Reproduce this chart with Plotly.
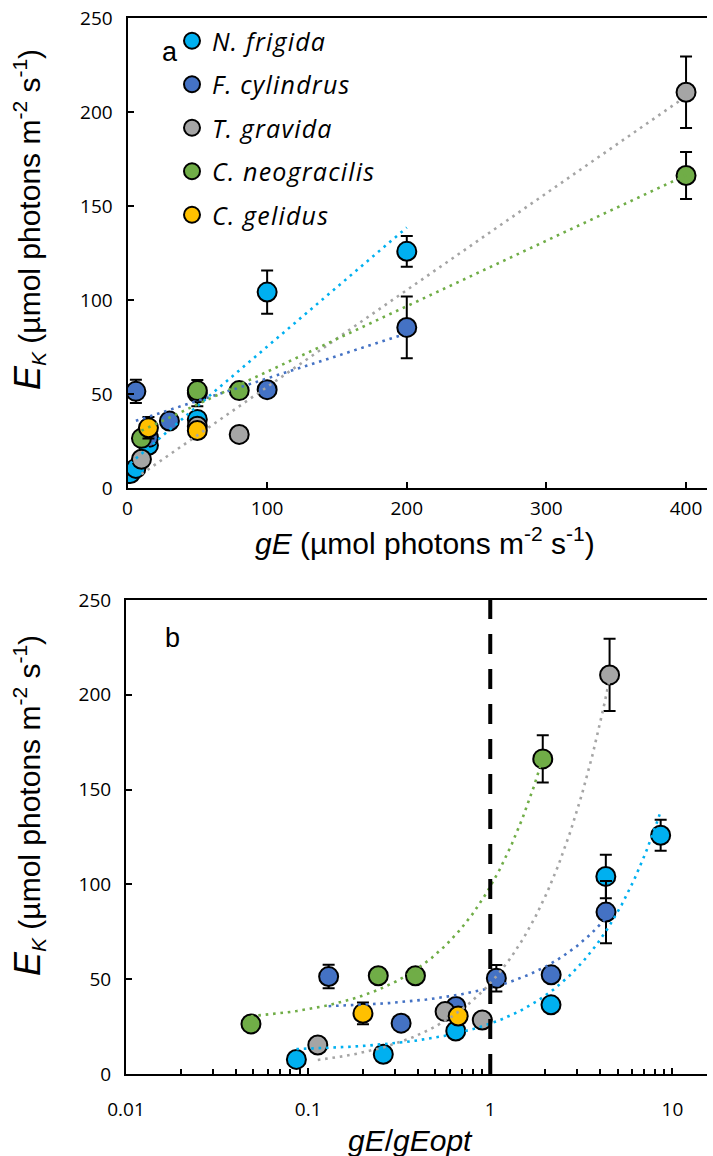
import numpy as np
import plotly.graph_objects as go

# ---------------- data ----------------
species = ["N. frigida", "F. cylindrus", "T. gravida", "C. neogracilis", "C. gelidus"]
colors = ["#00B0F0", "#4472C4", "#A5A5A5", "#70AD47", "#FFC000"]

nf_gE = [2, 6, 15, 50, 100, 200]
nf_EK = [7.7, 10.4, 22.7, 36.5, 104.2, 125.9]
nf_err = [0, 0, 0, 0, 11.5, 8.2]
nf_gEopt = 23.2

fc_gE = [6, 15, 30, 50, 100, 200]
fc_EK = [51.4, 26.8, 35.6, 50.5, 52.3, 85.4]
fc_err = [6.2, 0, 0, 7, 0, 16.4]
fc_gEopt = 46.3

tg_gE = [10, 50, 80, 400]
tg_EK = [15.3, 32.9, 28.5, 210.5]
tg_err = [0, 0, 0, 19]
tg_gEopt = 88.5

cn_gE = [10, 50, 80, 400]
cn_EK = [26.4, 51.8, 51.8, 166.2]
cn_err = [0, 0, 0, 12.5]
cn_gEopt = 206

cg_gE = [15, 50]
cg_EK = [32.0, 30.6]
cg_err = [5.7, 0]
cg_gEopt = 75

has_trend = [True, True, True, True, False]
gE_ratio_ref = 1  # dashed reference line gE/gEopt = 1

groups = [
    (nf_gE, nf_EK, nf_err, nf_gEopt),
    (fc_gE, fc_EK, fc_err, fc_gEopt),
    (tg_gE, tg_EK, tg_err, tg_gEopt),
    (cn_gE, cn_EK, cn_err, cn_gEopt),
    (cg_gE, cg_EK, cg_err, cg_gEopt),
]

W, H = 713, 1156
TICKFONT = dict(family="Open Sans, Lato, sans-serif", size=19, color="black")
TITLEFONT = dict(family="Liberation Sans, Arial, sans-serif", size=30, color="black")
LABELFONT = dict(family="Liberation Sans, Arial, sans-serif", size=27, color="black")

fig = go.Figure()

# markers
for i, (gE, EK, err, gEopt) in enumerate(groups):
    mk = dict(color=colors[i], size=19, line=dict(color="black", width=2))
    eb = dict(type="data", array=err, color="black", thickness=2, width=6)
    fig.add_trace(go.Scatter(
        x=gE, y=EK, mode="markers", marker=mk, error_y=eb,
        name="<span style='letter-spacing:1.2px'><i>" + species[i] + "</i></span>",
        legendgroup=species[i], xaxis="x", yaxis="y", showlegend=True))
    fig.add_trace(go.Scatter(
        x=[g / gEopt for g in gE], y=EK, mode="markers", marker=mk, error_y=eb,
        name=species[i], legendgroup=species[i],
        xaxis="x2", yaxis="y2", showlegend=False))

# linear trend lines (least squares, as in the source's trendlines)
for i, (gE, EK, err, gEopt) in enumerate(groups):
    if not has_trend[i]:
        continue
    coef = np.polyfit(gE, EK, 1)
    xs = np.linspace(min(gE), max(gE), 200)
    ys = np.polyval(coef, xs)
    ln = dict(color=colors[i], width=2.6, dash="2.6px,4.8px")
    fig.add_trace(go.Scatter(x=xs, y=ys, mode="lines", line=ln,
                             xaxis="x", yaxis="y", showlegend=False, hoverinfo="skip"))
    fig.add_trace(go.Scatter(x=xs / gEopt, y=ys, mode="lines", line=ln,
                             xaxis="x2", yaxis="y2", showlegend=False, hoverinfo="skip"))

# dashed reference line at gE/gEopt = 1
fig.add_shape(type="line", xref="x2", yref="y2 domain", x0=gE_ratio_ref, x1=gE_ratio_ref,
              y0=0, y1=1, line=dict(color="black", width=4, dash="20px,15px"))

axis_common = dict(showline=True, linecolor="black", linewidth=2, ticks="inside",
                   tickcolor="black", tickwidth=2, ticklen=6, showgrid=False,
                   zeroline=False, tickfont=TICKFONT, automargin=False)

minor_vals = [m * 10.0 ** k for k in (-2, -1, 0, 1) for m in range(2, 10)]

fig.update_layout(
    width=W, height=H,
    margin=dict(l=0, r=0, t=0, b=0),
    paper_bgcolor="white", plot_bgcolor="white",
    xaxis=dict(domain=[127.5 / W, 707 / W], range=[0, 415], dtick=100, tick0=0,
               mirror=True, anchor="y", ticklabelstandoff=2, **axis_common),
    yaxis=dict(domain=[1 - 488 / H, 1 - 18 / H], range=[0, 250], dtick=50,
               anchor="x", ticklabelstandoff=9, **axis_common),
    xaxis2=dict(domain=[126 / W, 707 / W], type="log", range=[-2, 1.19],
                tickvals=[0.01, 0.1, 1, 10], ticktext=["0.01", "0.1", "1", "10"],
                minor=dict(tickvals=minor_vals, ticks="inside", ticklen=5,
                           tickwidth=1.5, tickcolor="black"),
                mirror=True, anchor="y2", ticklabelstandoff=17, **axis_common),
    yaxis2=dict(domain=[1 - 1074 / H, 1 - 600 / H], range=[0, 250], dtick=50,
                anchor="x2", ticklabelstandoff=9, **axis_common),
    legend=dict(x=172 / W, y=1 - 18 / H, xanchor="left", yanchor="top",
                font=dict(family="Open Sans, Lato, sans-serif", size=25, color="black"),
                bgcolor="rgba(0,0,0,0)", tracegroupgap=8),
    showlegend=True,
)

ytitle = ("<i><span style='font-size:36px'>E</span><sub>K</sub></i> "
          "(µmol photons m<sup>-2</sup> s<sup>-1</sup>)")
annotations = [
    dict(text=ytitle, x=28 / W, y=1 - 220 / H, textangle=-90, font=TITLEFONT),
    dict(text=ytitle, x=28 / W, y=1 - 806 / H, textangle=-90, font=TITLEFONT),
    dict(text="<i>gE</i> (µmol photons m<sup>-2</sup> s<sup>-1</sup>)",
         x=425 / W, y=1 - 541 / H, font=TITLEFONT),
    dict(text="<i>gE</i>/<i>gEopt</i>", x=410 / W, y=1 - 1140 / H, font=TITLEFONT),
    dict(text="a", x=170 / W, y=1 - 52 / H, font=LABELFONT),
    dict(text="b", x=172 / W, y=1 - 638 / H, font=LABELFONT),
]
for a in annotations:
    a.update(xref="paper", yref="paper", showarrow=False, xanchor="center",
             yanchor="middle")
    fig.add_annotation(**a)

fig.write_html("out.html")
